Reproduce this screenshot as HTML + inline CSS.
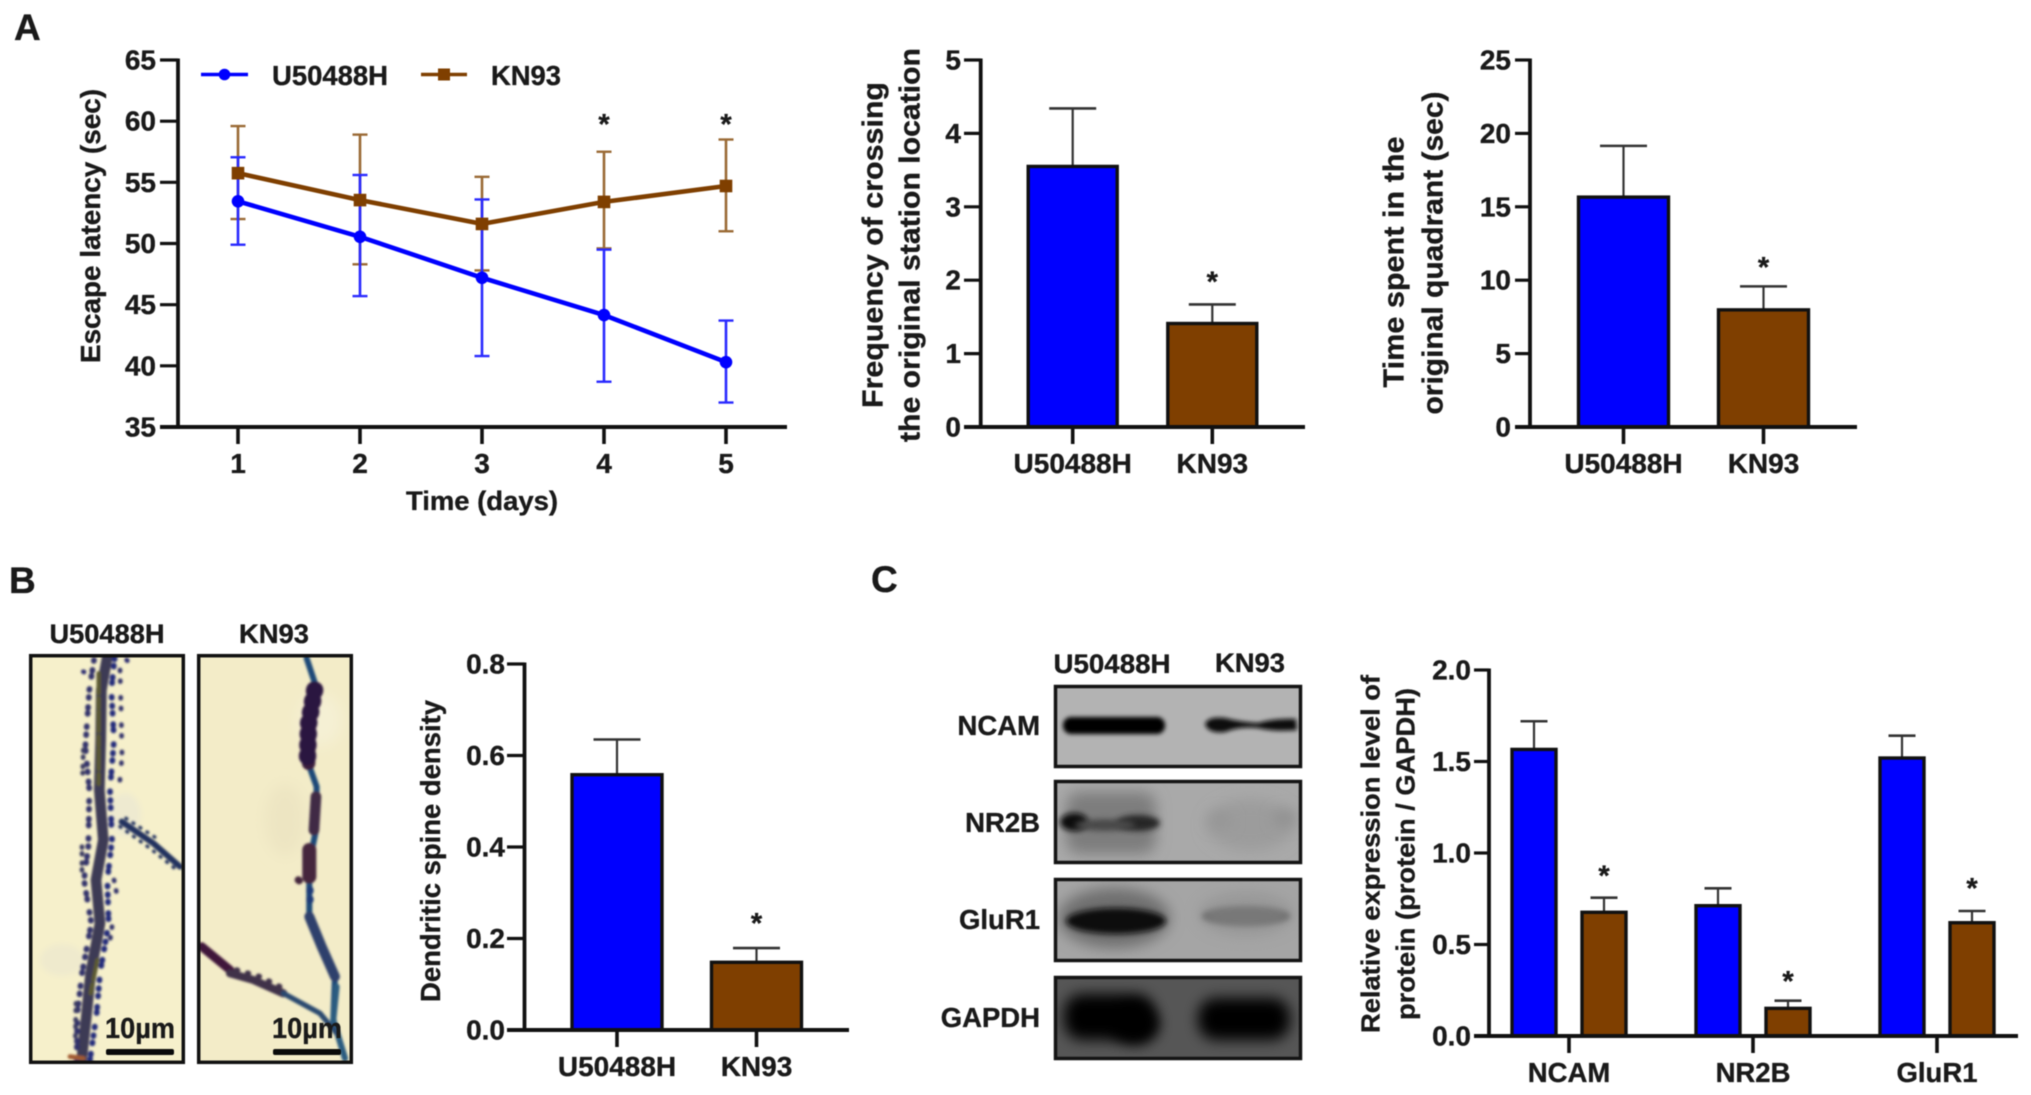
<!DOCTYPE html>
<html lang="en">
<head>
<meta charset="utf-8">
<title>U50488H and KN93 behavioural and molecular results</title>
<style>
html,body{margin:0;padding:0;background:#fff;}
svg{display:block;filter:blur(0.6px);}
text{font-family:"Liberation Sans",Arial,sans-serif;font-weight:700;fill:#1a1a1a;stroke:#1a1a1a;stroke-width:.35px;}
</style>
</head>
<body>
<svg id="figure" xmlns="http://www.w3.org/2000/svg" width="2031" height="1095" viewBox="0 0 2031 1095">
<defs>
<filter id="b1" x="-50%" y="-100%" width="200%" height="300%"><feGaussianBlur stdDeviation="1.2"/></filter>
<filter id="b2" x="-50%" y="-100%" width="200%" height="300%"><feGaussianBlur stdDeviation="2"/></filter>
<filter id="b3" x="-50%" y="-100%" width="200%" height="300%"><feGaussianBlur stdDeviation="3"/></filter>
<filter id="b7" x="-60%" y="-100%" width="220%" height="300%"><feGaussianBlur stdDeviation="7"/></filter>
<filter id="b12" x="-80%" y="-120%" width="260%" height="340%"><feGaussianBlur stdDeviation="12"/></filter>
<clipPath id="clip-m1"><rect x="29" y="654" width="156" height="410"/></clipPath>
<clipPath id="clip-m2"><rect x="197" y="654" width="156" height="410"/></clipPath>
<clipPath id="clip-w1"><rect x="1054" y="685" width="248" height="83"/></clipPath>
<clipPath id="clip-w2"><rect x="1054" y="780" width="248" height="84"/></clipPath>
<clipPath id="clip-w3"><rect x="1054" y="878" width="248" height="84"/></clipPath>
<clipPath id="clip-w4"><rect x="1054" y="976" width="248" height="84"/></clipPath>
</defs>
<rect width="2031" height="1095" fill="#fff"/>

<text x="14" y="40" font-size="37" fill="#222">A</text>
<text x="9" y="593" font-size="37" fill="#222">B</text>
<text x="871" y="592" font-size="37" fill="#222">C</text>

<g id="panel-a-line"></g>
<g id="panel-a-cross"></g>
<g id="panel-a-time"></g>
<g id="panel-b-density"></g>
<g id="panel-c-expr"></g>

<g>
  <text x="107" y="643" font-size="26.5" text-anchor="middle" textLength="115" lengthAdjust="spacingAndGlyphs">U50488H</text>
  <text x="274" y="643" font-size="26.5" text-anchor="middle" textLength="70" lengthAdjust="spacingAndGlyphs">KN93</text>

  <g>
    <rect x="29" y="654" width="156" height="410" fill="#f6f0cb"/>
    <g clip-path="url(#clip-m1)">
      <ellipse cx="62" cy="960" rx="22" ry="16" fill="#efeacd" filter="url(#b3)"/>
      <ellipse cx="125" cy="815" rx="16" ry="22" fill="#eeead0" filter="url(#b3)"/>
      <g transform="translate(20 640) scale(.3333)" fill="none" stroke-linecap="round" stroke-linejoin="round" filter="url(#b3)">
        <path d="M262 50 L244 150 L242 300 L238 450 L250 600 L228 720 L240 850 L212 1000 L200 1120 L185 1260" stroke="#3c3a55" stroke-width="32"/>
        <path d="M284 55 L274 150 L282 300 L270 450 L276 600 L262 720 L266 850 L240 1000 L230 1120 L210 1260" stroke="#232a7a" stroke-width="17" stroke-dasharray="3 19 3 31 3 13 3 41 3 23"/>
        <path d="M222 60 L208 150 L196 320 L208 450 L205 620 L192 720 L214 850 L186 1000 L172 1120 L170 1260" stroke="#30306a" stroke-width="17" stroke-dasharray="3 27 3 15 3 37 3 21"/>
        <path d="M300 90 L304 240 L306 350 L298 440 M282 720 L292 770 M276 860 L266 930" stroke="#30306a" stroke-width="14" stroke-dasharray="3 29 3 47"/>
        <path d="M190 330 L188 400 M186 620 L186 700 M168 1090 L166 1200" stroke="#3a3a62" stroke-width="14" stroke-dasharray="3 17 3 25"/>
        <path d="M236 100 L236 440 M232 960 L212 1060" stroke="#5b5a30" stroke-width="13" stroke-dasharray="60 14 30 10"/>
        <path d="M305 545 L400 610 L480 680" stroke="#22305f" stroke-width="18"/>
        <path d="M318 535 L410 595 M300 560 L390 625 L470 690" stroke="#22305f" stroke-width="10" stroke-dasharray="3 22"/>
        <path d="M190 95 L192 96 M320 60 L322 62" stroke="#2c2c70" stroke-width="14"/>
        <path d="M150 1250 L190 1255" stroke="#a05a30" stroke-width="14"/>
      </g>
    </g>
    <rect x="30.7" y="655.7" width="152.6" height="406.6" fill="none" stroke="#111" stroke-width="3.5"/>
    <text x="140" y="1038" font-size="29" text-anchor="middle" textLength="70" lengthAdjust="spacingAndGlyphs">10µm</text>
    <rect x="106" y="1049" width="68" height="6" rx="2" fill="#0a0a0a"/>
  </g>

  <g>
    <rect x="197" y="654" width="156" height="410" fill="#f3ecc8"/>
    <g clip-path="url(#clip-m2)">
      <ellipse cx="285" cy="820" rx="20" ry="36" fill="#ede5c2" filter="url(#b7)"/>
      <ellipse cx="320" cy="720" rx="22" ry="26" fill="#f5f0d4" filter="url(#b7)"/>
      <g transform="translate(20 640) scale(.3333)" fill="none" stroke-linecap="round" stroke-linejoin="round" filter="url(#b3)">
        <path d="M860 55 L885 130 L870 250 L865 370 L890 440 L888 570 L868 670 L868 820 L905 920 L945 1010 L940 1140 L975 1255" stroke="#1f4a78" stroke-width="18"/>
        <path d="M882 150 L868 250 L866 370" stroke="#3a1f3c" stroke-width="40"/>
        <path d="M884 150 L866 250 L862 370" stroke="#2a1740" stroke-width="52" stroke-dasharray="3 30"/>
        <path d="M888 470 L882 570" stroke="#3f2c44" stroke-width="32"/>
        <path d="M868 630 L868 710" stroke="#45263e" stroke-width="42"/>
        <path d="M835 720 L838 722" stroke="#45263e" stroke-width="22"/>
        <path d="M870 750 L870 790" stroke="#1e3a78" stroke-width="22" stroke-dasharray="3 24"/>
        <path d="M868 830 L905 920 L945 1010" stroke="#2e3f6c" stroke-width="30"/>
        <path d="M950 1040 L940 1140 L975 1255" stroke="#2a5c80" stroke-width="18"/>
        <path d="M545 920 L630 990" stroke="#40153a" stroke-width="26"/>
        <path d="M630 1000 L700 1020 L790 1060" stroke="#41304a" stroke-width="24"/>
        <path d="M650 990 L720 1010 L790 1045" stroke="#41304a" stroke-width="16" stroke-dasharray="3 31"/>
        <path d="M790 1060 L900 1120 L950 1180" stroke="#2b4a70" stroke-width="16"/>
      </g>
    </g>
    <rect x="198.7" y="655.7" width="152.6" height="406.6" fill="none" stroke="#111" stroke-width="3.5"/>
    <text x="307" y="1038" font-size="29" text-anchor="middle" textLength="70" lengthAdjust="spacingAndGlyphs">10µm</text>
    <rect x="273" y="1049" width="68" height="6" rx="2" fill="#0a0a0a"/>
  </g>
</g>

<g>
  <text x="1112" y="673" font-size="27" text-anchor="middle" textLength="117" lengthAdjust="spacingAndGlyphs">U50488H</text>
  <text x="1250" y="672" font-size="27" text-anchor="middle" textLength="70" lengthAdjust="spacingAndGlyphs">KN93</text>

  <text x="1040" y="735" font-size="27.5" text-anchor="end">NCAM</text>
  <text x="1040" y="832" font-size="27.5" text-anchor="end">NR2B</text>
  <text x="1040" y="929" font-size="27.5" text-anchor="end">GluR1</text>
  <text x="1040" y="1027" font-size="27.5" text-anchor="end">GAPDH</text>

  <g>
    <rect x="1054" y="685" width="248" height="83" fill="#b3b3b3"/>
    <g clip-path="url(#clip-w1)">
      <rect x="1063" y="717" width="102" height="17" rx="8" fill="#050505" filter="url(#b2)"/>
      <path d="M1205 724 Q1208 716 1225 718 Q1240 722 1258 723 Q1275 718 1296 719 L1297 730 Q1275 732 1258 728 Q1240 726 1225 732 Q1208 734 1205 724 Z" fill="#0d0d0d" filter="url(#b2)"/>
    </g>
    <rect x="1055.5" y="686.5" width="245" height="80" fill="none" stroke="#141414" stroke-width="3.5"/>
  </g>
  <g>
    <rect x="1054" y="780" width="248" height="84" fill="#a9a9a9"/>
    <g clip-path="url(#clip-w2)">
      <rect x="1066" y="792" width="90" height="62" rx="14" fill="#7d7d7d" filter="url(#b7)"/>
      <ellipse cx="1074" cy="822" rx="14" ry="9" fill="#0c0c0c" filter="url(#b3)"/>
      <ellipse cx="1138" cy="823" rx="22" ry="8" fill="#262626" filter="url(#b3)"/>
      <ellipse cx="1105" cy="825" rx="30" ry="6" fill="#4a4a4a" filter="url(#b3)"/>
      <ellipse cx="1250" cy="825" rx="44" ry="26" fill="#9c9c9c" filter="url(#b7)"/>
      <ellipse cx="1285" cy="818" rx="12" ry="8" fill="#8f8f8f" filter="url(#b7)"/>
      <ellipse cx="1220" cy="820" rx="12" ry="8" fill="#949494" filter="url(#b7)"/>
    </g>
    <rect x="1055.5" y="781.5" width="245" height="81" fill="none" stroke="#141414" stroke-width="3.5"/>
  </g>
  <g>
    <rect x="1054" y="878" width="248" height="84" fill="#a5a5a5"/>
    <g clip-path="url(#clip-w3)">
      <ellipse cx="1114" cy="918" rx="56" ry="30" fill="#6e6e6e" filter="url(#b7)"/>
      <ellipse cx="1116" cy="921" rx="50" ry="13" fill="#111" filter="url(#b3)"/>
      <ellipse cx="1246" cy="916" rx="44" ry="10" fill="#565656" filter="url(#b3)"/>
      <ellipse cx="1246" cy="914" rx="48" ry="22" fill="#8f8f8f" opacity=".6" filter="url(#b7)"/>
    </g>
    <rect x="1055.5" y="879.5" width="245" height="81" fill="none" stroke="#141414" stroke-width="3.5"/>
  </g>
  <g>
    <rect x="1054" y="976" width="248" height="84" fill="#565656"/>
    <g clip-path="url(#clip-w4)">
      <rect x="1064" y="994" width="90" height="46" rx="18" fill="#020202" filter="url(#b7)"/>
      <ellipse cx="1135" cy="1024" rx="24" ry="20" fill="#020202" filter="url(#b7)"/>
      <rect x="1198" y="998" width="92" height="42" rx="18" fill="#030303" filter="url(#b7)"/>
    </g>
    <rect x="1055.5" y="977.5" width="245" height="81" fill="none" stroke="#141414" stroke-width="3.5"/>
  </g>
</g>
</svg>

<script>
/* ---------- Panel A: escape latency ---------- */
const latencyDays = [1, 2, 3, 4, 5];
const latencyTicks = [35, 40, 45, 50, 55, 60, 65];
const u50488hLatency = [53.45, 50.55, 47.2, 44.15, 40.3];
const u50488hLatencyUpper = [57.05, 55.6, 53.6, 49.5, 43.7];
const u50488hLatencyLower = [49.9, 45.7, 40.8, 38.7, 37.0];
const kn93Latency = [55.75, 53.55, 51.6, 53.4, 54.7];
const kn93LatencyUpper = [59.6, 58.9, 55.45, 57.5, 58.5];
const kn93LatencyLower = [52.0, 48.3, 47.8, 49.6, 51.0];
const latencyStarDays = [4, 5];
const latencyStarLevel = 60;

/* ---------- Panel A: crossing frequency ---------- */
const twoGroups = ['U50488H', 'KN93'];
const crossingTicks = [0, 1, 2, 3, 4, 5];
const crossingMeans = [3.55, 1.41];
const crossingUppers = [4.34, 1.67];
const crossingStars = [false, true];

/* ---------- Panel A: time in quadrant ---------- */
const quadrantTicks = [0, 5, 10, 15, 20, 25];
const quadrantMeans = [15.66, 7.98];
const quadrantUppers = [19.15, 9.58];
const quadrantStars = [false, true];

/* ---------- Panel B: spine density ---------- */
const densityTicks = ['0.0', '0.2', '0.4', '0.6', '0.8'];
const densityMeans = [0.558, 0.148];
const densityUppers = [0.635, 0.179];
const densityStars = [false, true];

/* ---------- Panel C: protein expression ---------- */
const proteins = ['NCAM', 'NR2B', 'GluR1'];
const exprTicks = ['0.0', '0.5', '1.0', '1.5', '2.0'];
const u50488hExpr = [1.566, 0.712, 1.519];
const u50488hExprUpper = [1.72, 0.807, 1.641];
const kn93Expr = [0.676, 0.151, 0.619];
const kn93ExprUpper = [0.756, 0.193, 0.683];

const BLUE = '#0000ff';
const BROWN = '#7f3f00';
const INK = '#111';
const NS = 'http://www.w3.org/2000/svg';

function el(parent, tag, attrs, txt) {
  const n = document.createElementNS(NS, tag);
  for (const k in attrs) n.setAttribute(k, attrs[k]);
  if (txt !== undefined) n.textContent = txt;
  parent.appendChild(n);
  return n;
}
function linearScale(d0, d1, r0, r1) {
  return v => r0 + (Number(v) - d0) * (r1 - r0) / (d1 - d0);
}

function drawYAxis(g, ticks, y, axisX, left, top, bottom, labelRight, fs) {
  const spine = el(g, 'line', {x1: axisX, x2: axisX, y1: top - 1.5, y2: bottom, stroke: INK, 'stroke-width': 3.8});
  
  
  ticks.forEach(t => {
    const mark = el(g, 'line', {x1: left, x2: axisX, y1: y(t), y2: y(t), stroke: INK, 'stroke-width': 3.2});
    
    
    const lab = el(g, 'text', {x: labelRight, y: y(t) + 9.5, 'font-size': fs, 'text-anchor': 'end'}, String(t));
    
    
  });
}
function drawXTick(g, x, baseline, tickBottom, labelY, fs, label) {
  const mark = el(g, 'line', {x1: x, x2: x, y1: baseline, y2: tickBottom, stroke: INK, 'stroke-width': 3.6});
  
  
  const lab = el(g, 'text', {x: x, y: labelY, 'font-size': fs, 'text-anchor': 'middle'}, String(label));
  
  
}
function rotatedTitle(g, cx, cy, txt, fs, len) {
  const t = el(g, 'text', {
    transform: 'translate(' + cx + ' ' + cy + ') rotate(-90)', x: 0, y: fs * 0.36,
    'font-size': fs, 'text-anchor': 'middle', textLength: len, lengthAdjust: 'spacingAndGlyphs'
  }, txt);
  
  
}
function drawStar(g, x, centerY) {
  const s = el(g, 'text', {x: x, y: centerY + 13, 'font-size': 29, 'text-anchor': 'middle'}, '*');
  
  
}
function drawBar(g, cx, w, y, value, upper, fill, baseline, capW) {
  const stem = el(g, 'line', {x1: cx, x2: cx, y1: y(value), y2: y(upper), stroke: '#333', 'stroke-width': 2.2});
  
  
  const cap = el(g, 'line', {x1: cx - capW / 2, x2: cx + capW / 2, y1: y(upper), y2: y(upper), stroke: '#333', 'stroke-width': 2.6});
  
  
  const r = el(g, 'rect', {x: cx - w / 2, y: y(value), width: w, height: baseline - y(value), fill: fill, stroke: INK, 'stroke-width': 3.4});
  
  
}

/* two-bar panel */
function drawTwoBarPanel(id, ticks, domainMax, means, uppers, stars, layout) {
  const g = document.getElementById(id);
  const y = linearScale(0, domainMax, layout.bottom, layout.top);
  const xBand = i => layout.firstCenter + i * layout.step;
  means.forEach((m, i) => {
    drawBar(g, xBand(i), layout.barW, y, m, uppers[i], i === 0 ? BLUE : BROWN, layout.bottom, 47);
    if (stars[i]) drawStar(g, xBand(i), y(uppers[i]) - layout.starGap);
  });
  drawYAxis(g, ticks, y, layout.axisX, layout.left, layout.top, layout.bottom, layout.labelRight, 28);
  const base = el(g, 'line', {x1: layout.left, x2: layout.right, y1: layout.bottom, y2: layout.bottom, stroke: INK, 'stroke-width': 4});
  
  
  twoGroups.forEach((name, i) => drawXTick(g, xBand(i), layout.bottom, layout.bottom + 17, layout.bottom + 46, 28, name));
  return g;
}

/* Line chart */
(function () {
  const g = document.getElementById('panel-a-line');
  const y = linearScale(35, 65, 427, 60);
  const x = linearScale(1, 5, 238, 726);
  const left = 160, axisX = 178, right = 787;

  function whiskers(means, upper, lower, colour, name) {
    means.forEach((m, i) => {
      const d = latencyDays[i];
      const stem = el(g, 'line', {x1: x(d), x2: x(d), y1: y(upper[i]), y2: y(lower[i]), stroke: colour, 'stroke-width': 2.6});
      
      
      [upper[i], lower[i]].forEach(v => {
        const cap = el(g, 'line', {x1: x(d) - 7.5, x2: x(d) + 7.5, y1: y(v), y2: y(v), stroke: colour, 'stroke-width': 2.4});
        
        
      });
    });
  }
  whiskers(kn93Latency, kn93LatencyUpper, kn93LatencyLower, '#9a6a35', 'kn93');
  whiskers(u50488hLatency, u50488hLatencyUpper, u50488hLatencyLower, '#2a2aff', 'u50488h');

  const bluePts = u50488hLatency.map((v, i) => x(latencyDays[i]) + ',' + y(v)).join(' ');
  const blueLine = el(g, 'polyline', {points: bluePts, fill: 'none', stroke: BLUE, 'stroke-width': 4.6});
  
  
  const brownPts = kn93Latency.map((v, i) => x(latencyDays[i]) + ',' + y(v)).join(' ');
  const brownLine = el(g, 'polyline', {points: brownPts, fill: 'none', stroke: BROWN, 'stroke-width': 4.6});
  
  

  u50488hLatency.forEach((v, i) => {
    const c = el(g, 'circle', {cx: x(latencyDays[i]), cy: y(v), r: 6.3, fill: BLUE});
    
    
  });
  kn93Latency.forEach((v, i) => {
    const s = el(g, 'rect', {x: x(latencyDays[i]) - 6.3, y: y(v) - 6.3, width: 12.6, height: 12.6, fill: BROWN});
    
    
  });
  latencyStarDays.forEach(d => drawStar(g, x(d), y(latencyStarLevel)));

  drawYAxis(g, latencyTicks, y, axisX, left, 60, 427, 156, 28);
  const base = el(g, 'line', {x1: left, x2: right, y1: 427, y2: 427, stroke: INK, 'stroke-width': 4});
  
  
  latencyDays.forEach(d => drawXTick(g, x(d), 427, 444, 473, 28, d));

  rotatedTitle(g, 90, 226, 'Escape latency (sec)', 27.5, 274);
  const xt = el(g, 'text', {x: 482, y: 510, 'font-size': 26.5, 'text-anchor': 'middle', textLength: 152, lengthAdjust: 'spacingAndGlyphs'}, 'Time (days)');
  
  

  /* legend */
  const lb = el(g, 'line', {x1: 201, x2: 248, y1: 74.5, y2: 74.5, stroke: BLUE, 'stroke-width': 3.6});
  
  
  const lbm = el(g, 'circle', {cx: 224.5, cy: 74.5, r: 5.8, fill: BLUE});
  
  
  const lbt = el(g, 'text', {x: 272, y: 85, 'font-size': 27.5, textLength: 116, lengthAdjust: 'spacingAndGlyphs'}, 'U50488H');
  
  
  const ln = el(g, 'line', {x1: 421, x2: 467, y1: 74.5, y2: 74.5, stroke: BROWN, 'stroke-width': 3.6});
  
  
  const lnm = el(g, 'rect', {x: 438, y: 68.5, width: 12, height: 12, fill: BROWN});
  
  
  const lnt = el(g, 'text', {x: 491, y: 85, 'font-size': 27.5, textLength: 70, lengthAdjust: 'spacingAndGlyphs'}, 'KN93');
  
  
})();

/* Crossing frequency */
(function () {
  const g = drawTwoBarPanel('panel-a-cross', crossingTicks, 5, crossingMeans, crossingUppers, crossingStars,
    {top: 60, bottom: 427, axisX: 980.7, left: 964, right: 1305, firstCenter: 1072.7, step: 139.6, barW: 89, labelRight: 961, starGap: 26});
  rotatedTitle(g, 872, 245, 'Frequency of crossing', 28.5, 326);
  rotatedTitle(g, 909, 245, 'the original station location', 28.5, 394);
})();

/* Time in quadrant */
(function () {
  const g = drawTwoBarPanel('panel-a-time', quadrantTicks, 25, quadrantMeans, quadrantUppers, quadrantStars,
    {top: 60, bottom: 427, axisX: 1530, left: 1515, right: 1857, firstCenter: 1623.5, step: 140, barW: 90, labelRight: 1511, starGap: 22.5});
  rotatedTitle(g, 1393, 262, 'Time spent in the', 28.5, 251);
  rotatedTitle(g, 1432, 253, 'original quadrant (sec)', 28.5, 323);
})();

/* Spine density */
(function () {
  const g = drawTwoBarPanel('panel-b-density', densityTicks, 0.8, densityMeans, densityUppers, densityStars,
    {top: 664, bottom: 1030, axisX: 524.5, left: 507, right: 849, firstCenter: 617, step: 139.5, barW: 90, labelRight: 505, starGap: 28});
  rotatedTitle(g, 430, 851, 'Dendritic spine density', 27.5, 302);
})();

/* Protein expression */
(function () {
  const g = document.getElementById('panel-c-expr');
  const y = linearScale(0, 2, 1036, 670);
  const xGroup = i => 1569 + i * 184;
  const offset = 35, barW = 44;
  const gaps = [25, 22.7, 26];
  proteins.forEach((p, i) => {
    drawBar(g, xGroup(i) - offset, barW, y, u50488hExpr[i], u50488hExprUpper[i], BLUE, 1036, 27);
    drawBar(g, xGroup(i) + offset, barW, y, kn93Expr[i], kn93ExprUpper[i], BROWN, 1036, 27);
    drawStar(g, xGroup(i) + offset, y(kn93ExprUpper[i]) - gaps[i]);
  });
  drawYAxis(g, exprTicks, y, 1489, 1474, 670, 1036, 1471, 28);
  const base = el(g, 'line', {x1: 1474, x2: 2018, y1: 1036, y2: 1036, stroke: INK, 'stroke-width': 4});
  
  
  proteins.forEach((p, i) => drawXTick(g, xGroup(i), 1036, 1053, 1082, 27.5, p));
  rotatedTitle(g, 1370, 854, 'Relative expression level of', 26, 358);
  rotatedTitle(g, 1405, 854, 'protein (protein / GAPDH)', 26, 332);
})();
</script>
</body>
</html>
